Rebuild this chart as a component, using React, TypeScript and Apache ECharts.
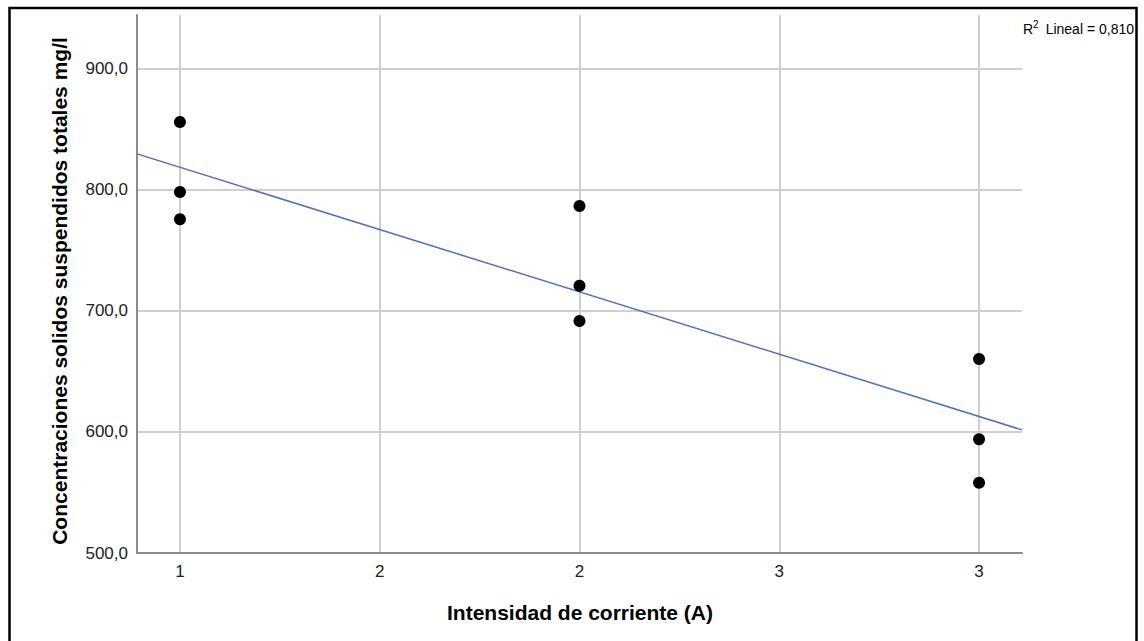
import React, { useEffect, useRef } from "react";
import * as echarts from "echarts";

// Data
const intensidad = [1, 1, 1, 2, 2, 2, 3, 3, 3];
const concentracion = [856.2, 798.3, 775.8, 786.8, 720.9, 691.7, 660.3, 594.0, 558.1];
const xTickValues = [1, 1.5, 2, 2.5, 3];
const xTickLabels = ["1", "2", "2", "3", "3"];
const yTickValues = [500, 600, 700, 800, 900];
const yTickLabels = ["500,0", "600,0", "700,0", "800,0", "900,0"];
const xRange = [0.8925, 3.1075];
const yRange = [500, 944.6];
const r2Text = "Lineal = 0,810";
const xTitle = "Intensidad de corriente (A)";
const yTitle = "Concentraciones solidos suspendidos totales mg/l";

function linearFit(xs: number[], ys: number[]) {
  const n = xs.length;
  const mx = xs.reduce((a, b) => a + b, 0) / n;
  const my = ys.reduce((a, b) => a + b, 0) / n;
  let sxy = 0;
  let sxx = 0;
  for (let i = 0; i < n; i++) {
    sxy += (xs[i] - mx) * (ys[i] - my);
    sxx += (xs[i] - mx) * (xs[i] - mx);
  }
  const slope = sxy / sxx;
  const intercept = my - slope * mx;
  return (x: number) => intercept + slope * x;
}

const FONT = "'Liberation Sans', Arial, sans-serif";

export default function App() {
  const ref = useRef<HTMLDivElement>(null);
  useEffect(() => {
    if (!ref.current) return;
    const chart = echarts.init(ref.current, undefined, { renderer: "svg" });
    const fit = linearFit(intensidad, concentracion);
    const points = intensidad.map((x, i) => [x, concentracion[i]]);
    const fitLine = [
      [xRange[0], fit(xRange[0])],
      [xRange[1], fit(xRange[1])],
    ];
    chart.setOption({
      animation: false,
      backgroundColor: "#ffffff",
      grid: { left: 137, right: 122, top: 15, bottom: 88, containLabel: false },
      xAxis: {
        type: "value",
        min: xRange[0],
        max: xRange[1],
        axisLine: { show: true, lineStyle: { color: "#8c8c8c", width: 2 } },
        axisTick: { show: false, customValues: xTickValues },
        axisLabel: {
          customValues: xTickValues,
          margin: 10,
          fontFamily: FONT,
          fontSize: 17,
          color: "#222",
          formatter: (v: number) => {
            const idx = xTickValues.findIndex((t) => Math.abs(t - v) < 1e-6);
            return idx >= 0 ? xTickLabels[idx] : "";
          },
        },
        splitLine: { show: true, lineStyle: { color: "#cfcfcf", width: 2 } },
      },
      yAxis: {
        type: "value",
        min: yRange[0],
        max: yRange[1],
        axisLine: { show: true, lineStyle: { color: "#8c8c8c", width: 2 } },
        axisTick: { show: false, customValues: yTickValues },
        axisLabel: {
          customValues: yTickValues,
          margin: 9,
          fontFamily: FONT,
          fontSize: 17,
          color: "#222",
          formatter: (v: number) => {
            const idx = yTickValues.findIndex((t) => Math.abs(t - v) < 1e-6);
            return idx >= 0 ? yTickLabels[idx] : "";
          },
        },
        splitLine: { show: true, lineStyle: { color: "#cfcfcf", width: 2 } },
      },
      series: [
        {
          type: "line",
          data: fitLine,
          showSymbol: false,
          symbol: "none",
          silent: true,
          z: 2,
          lineStyle: { color: "#4f6fc0", width: 1.5 },
        },
        {
          type: "scatter",
          data: points,
          symbol: "circle",
          symbolSize: 12,
          z: 3,
          itemStyle: { color: "#000000", opacity: 1 },
        },
      ],
      graphic: [
        {
          type: "rect",
          shape: { x: 9.5, y: 8, width: 1127, height: 700 },
          style: { fill: "none", stroke: "#000", lineWidth: 2.5 },
          silent: true,
          z: 10,
        },
        {
          type: "text",
          x: 580,
          y: 612,
          style: {
            text: xTitle,
            font: `bold 21px ${FONT}`,
            fill: "#000",
            textAlign: "center",
            textVerticalAlign: "middle",
          },
        },
        {
          type: "text",
          x: 59,
          y: 291,
          rotation: Math.PI / 2,
          style: {
            text: yTitle,
            font: `bold 21px ${FONT}`,
            fill: "#000",
            textAlign: "center",
            textVerticalAlign: "middle",
          },
        },
        {
          type: "text",
          x: 1023,
          y: 29,
          style: {
            text: "R",
            font: `14px ${FONT}`,
            fill: "#000",
            textAlign: "left",
            textVerticalAlign: "middle",
          },
        },
        {
          type: "text",
          x: 1033,
          y: 24,
          style: {
            text: "2",
            font: `10px ${FONT}`,
            fill: "#000",
            textAlign: "left",
            textVerticalAlign: "middle",
          },
        },
        {
          type: "text",
          x: 1134,
          y: 29,
          style: {
            text: r2Text,
            font: `14px ${FONT}`,
            fill: "#000",
            textAlign: "right",
            textVerticalAlign: "middle",
          },
        },
      ],
    });
    return () => chart.dispose();
  }, []);
  return (
    <div
      ref={ref}
      style={{ position: "fixed", left: 0, top: 0, width: 1144, height: 641, background: "#fff" }}
    />
  );
}
